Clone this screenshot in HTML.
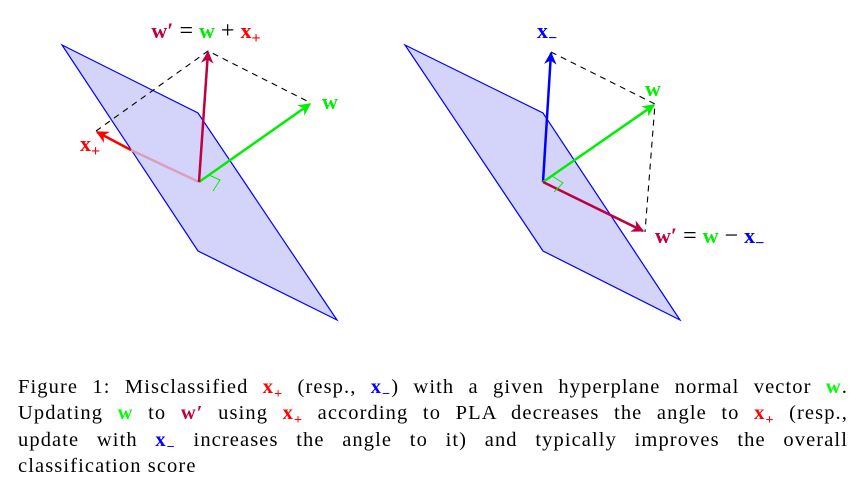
<!DOCTYPE html>
<html><head><meta charset="utf-8"><style>
body{margin:0;background:#fff;width:858px;height:494px;overflow:hidden;position:relative}
svg{position:absolute;left:0;top:0}
.cap{position:absolute;left:18px;top:374px;width:830px;font-family:"Liberation Serif",serif;font-size:20.5px;letter-spacing:1.1px;line-height:26.3px;color:#000}
.ln{text-align:justify;text-align-last:justify;white-space:nowrap;height:26.3px}
.ln.last{text-align-last:left}
.r{color:#ff0000;font-weight:bold}.g{color:#00ff00;font-weight:bold}.b{color:#0000ff;font-weight:bold}.p{color:#bf0040;font-weight:bold}
sub{font-size:14px;line-height:0}
</style></head><body>
<svg width="858" height="494" font-family="Liberation Serif, serif" font-weight="bold">
<defs>
<marker id="ag" viewBox="0 0 10 10" refX="9" refY="5" markerWidth="5" markerHeight="5" orient="auto"><path d="M0,0 L10,5 L0,10 L3,5z" fill="#00ee00"/></marker>
<marker id="arr" viewBox="0 0 10 10" refX="9" refY="5" markerWidth="5" markerHeight="5" orient="auto"><path d="M0,0 L10,5 L0,10 L3,5z" fill="#ff0000"/></marker>
<marker id="ap" viewBox="0 0 10 10" refX="9" refY="5" markerWidth="5" markerHeight="5" orient="auto"><path d="M0,0 L10,5 L0,10 L3,5z" fill="#bf0040"/></marker>
<marker id="ab" viewBox="0 0 10 10" refX="9" refY="5" markerWidth="5" markerHeight="5" orient="auto"><path d="M0,0 L10,5 L0,10 L3,5z" fill="#0000ff"/></marker>
</defs>
<g>
<polygon points="62,45 198,113 337,320 198,251" fill="#d4d4fa" stroke="#0000ff" stroke-width="1.2"/>
<polyline points="96,131 208,51 311,103" fill="none" stroke="#000" stroke-width="1.1" stroke-dasharray="6,5"/>
<line x1="199" y1="182" x2="131" y2="150" stroke="#d8a0c0" stroke-width="2.5"/>
<line x1="131" y1="150" x2="97" y2="132" stroke="#ff0000" stroke-width="2.5" marker-end="url(#arr)"/>
<line x1="199" y1="182" x2="310" y2="104" stroke="#00ee00" stroke-width="2.5" marker-end="url(#ag)"/>
<line x1="199" y1="182" x2="208" y2="52" stroke="#bf0040" stroke-width="2.5" marker-end="url(#ap)"/>
<polyline points="209,175 220,180 213,191" fill="none" stroke="#00ee00" stroke-width="1"/>
<text x="206" y="38" text-anchor="middle" font-size="22"><tspan fill="#bf0040">w′</tspan><tspan fill="#000" font-weight="normal" font-size="24"> = </tspan><tspan fill="#00ee00">w</tspan><tspan fill="#000" font-weight="normal" font-size="24"> + </tspan><tspan fill="#ff0000">x</tspan><tspan fill="#ff0000" font-size="16" dy="5">+</tspan></text>
<text x="322" y="109" font-size="22" fill="#00ee00">w</text>
<text x="80" y="151" font-size="22" fill="#ff0000">x<tspan font-size="16" dy="5">+</tspan></text>
</g>
<g>
<polygon points="405,45 543,113 680,320 543,251" fill="#d4d4fa" stroke="#0000ff" stroke-width="1.2"/>
<polyline points="551,52 655,104 645,232" fill="none" stroke="#000" stroke-width="1.1" stroke-dasharray="6,5"/>
<line x1="543" y1="182" x2="551" y2="53" stroke="#0000ff" stroke-width="2.5" marker-end="url(#ab)"/>
<line x1="543" y1="182" x2="654" y2="105" stroke="#00ee00" stroke-width="2.5" marker-end="url(#ag)"/>
<line x1="543" y1="182" x2="643" y2="231" stroke="#bf0040" stroke-width="2.5" marker-end="url(#ap)"/>
<polyline points="552,176 563,183 554,192" fill="none" stroke="#00ee00" stroke-width="1"/>
<text x="537" y="38" font-size="22" fill="#0000ff">x<tspan font-size="16" dy="5">−</tspan></text>
<text x="645" y="96" font-size="22" fill="#00ee00">w</text>
<text x="655" y="243" font-size="22"><tspan fill="#bf0040">w′</tspan><tspan fill="#000" font-weight="normal" font-size="24"> = </tspan><tspan fill="#00ee00">w</tspan><tspan fill="#000" font-weight="normal" font-size="24"> − </tspan><tspan fill="#0000ff">x</tspan><tspan fill="#0000ff" font-size="16" dy="5">−</tspan></text>
</g>
</svg>
<div class="cap">
<div class="ln">Figure 1: Misclassified <span class="r">x<sub>+</sub></span> (resp., <span class="b">x<sub>−</sub></span>) with a given hyperplane normal vector <span class="g">w</span>.</div>
<div class="ln">Updating <span class="g">w</span> to <span class="p">w′</span> using <span class="r">x<sub>+</sub></span> according to PLA decreases the angle to <span class="r">x<sub>+</sub></span> (resp.,</div>
<div class="ln">update with <span class="b">x<sub>−</sub></span> increases the angle to it) and typically improves the overall</div>
<div class="ln last">classification score</div>
</div>
</body></html>
